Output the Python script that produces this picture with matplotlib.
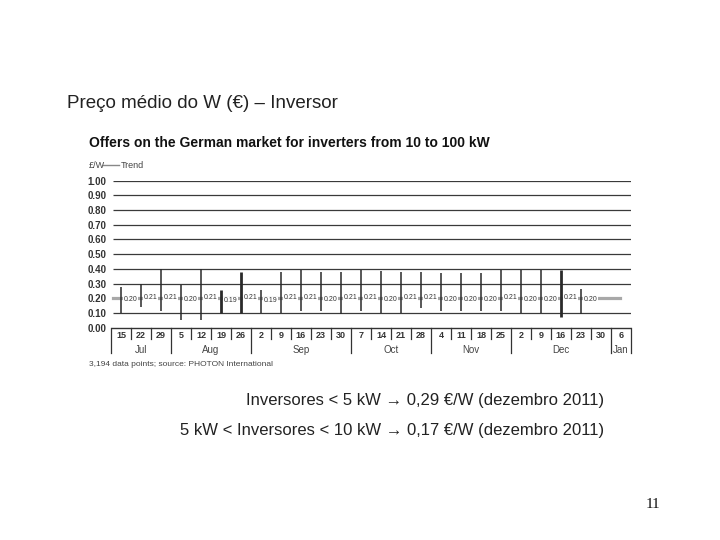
import matplotlib.pyplot as plt
from matplotlib.lines import Line2D

# weekly offers, German market, inverters 10-100 kW
days = ['15', '22', '29', '5', '12', '19', '26', '2', '9', '16', '23', '30', '7',
        '14', '21', '28', '4', '11', '18', '25', '2', '9', '16', '23', '30', '6']
months = ['Jul', 'Aug', 'Sep', 'Oct', 'Nov', 'Dec', 'Jan']
month_len = [3, 4, 5, 4, 4, 5, 1]
hi = [0.28, 0.30, 0.40, 0.29, 0.40, 0.255, 0.38, 0.255, 0.38, 0.39, 0.38, 0.38,
      0.39, 0.385, 0.38, 0.38, 0.37, 0.37, 0.37, 0.39, 0.39, 0.39, 0.39, 0.265]
lo = [0.10, 0.14, 0.115, 0.05, 0.05, 0.10, 0.10, 0.10, 0.10, 0.115, 0.115, 0.09,
      0.115, 0.10, 0.10, 0.135, 0.115, 0.115, 0.115, 0.115, 0.10, 0.10, 0.075, 0.09]
avg = [0.20, 0.21, 0.21, 0.20, 0.21, 0.19, 0.21, 0.19, 0.21, 0.21, 0.20, 0.21,
       0.21, 0.20, 0.21, 0.21, 0.20, 0.20, 0.20, 0.21, 0.20, 0.20, 0.21, 0.20]
trend = 0.20
yticks = [0.0, 0.1, 0.2, 0.3, 0.4, 0.5, 0.6, 0.7, 0.8, 0.9, 1.0]

sans = ['Liberation Sans', 'DejaVu Sans']

fig = plt.figure(figsize=(7.2, 5.4), dpi=100)
fig.patch.set_facecolor('white')

ax = fig.add_axes([111/720, 1 - 327.7/540, 520/720, 147.1/540])
ax.set_xlim(-0.5, 25.5)
ax.set_ylim(0, 1.0)
for s in ax.spines.values():
    s.set_visible(False)
ax.set_xticks([])
ax.set_yticks(yticks)
ax.set_yticklabels(['%.2f' % v for v in yticks], family=sans, fontsize=7,
                   fontweight='bold', color='#333333')
ax.tick_params(axis='y', length=0, pad=3.5)

# grid (0.20 is covered by the trend)
for v in yticks[1:]:
    if abs(v - trend) > 1e-6:
        ax.hlines(v, -0.4, 25.5, color='#3a3a3a', lw=0.9)
ax.hlines(0, -0.5, 25.5, color='#333333', lw=1.0, clip_on=False)

ax.plot([-0.4, 24.95], [trend, trend], color='#a8a8a8', lw=2.3, zorder=2)

thick = {5, 6, 22}
for i in range(len(hi)):
    ax.vlines(i, lo[i], hi[i], color='#2a2a2a', lw=2.0 if i in thick else 1.1, zorder=3)
    ax.text(i + 0.13, avg[i] - 0.008, '%.2f' % avg[i], fontsize=5, family=sans,
            color='#333333', ha='left', va='center', zorder=4,
            bbox=dict(facecolor='white', edgecolor='none', pad=0.4))

# x axis: day labels, week and month separators
for i, d in enumerate(days):
    ax.text(i, -0.055, d, ha='center', va='center', fontsize=6.5, family=sans,
            fontweight='bold', color='#333333', clip_on=False)
bounds = [-0.5]
for n in month_len:
    bounds.append(bounds[-1] + n)
for b in range(len(days) + 1):
    x = b - 0.5
    long_ = x in bounds
    ax.plot([x, x], [0, -0.17 if long_ else -0.08], color='#333333', lw=0.9,
            clip_on=False)
for m, a, b in zip(months, bounds[:-1], bounds[1:]):
    ax.text((a + b) / 2, -0.15, m, ha='center', va='center', fontsize=7,
            family=sans, color='#444444', clip_on=False)

# texts
fig.text(67/720, 1 - 103/540, 'Preço médio do W (€) – Inversor', fontsize=13.5,
         family=sans, color='#222222', va='center')
fig.text(89/720, 1 - 143/540, 'Offers on the German market for inverters from 10 to 100 kW',
         fontsize=10, family=sans, fontweight='bold', color='#111111', va='center')
fig.text(89/720, 1 - 165/540, '£/W', fontsize=6.5, family=sans, color='#444444', va='center')
fig.add_artist(Line2D([103/720, 119/720], [1 - 165/540, 1 - 165/540], color='#888888', lw=1))
fig.text(121/720, 1 - 165/540, 'Trend', fontsize=6.5, family=sans, color='#444444', va='center')
fig.text(89/720, 1 - 364/540, '3,194 data points; source: PHOTON International', fontsize=6,
         family=sans, color='#444444', va='center')

fig.text(604/720, 1 - 401/540, 'Inversores < 5 kW → 0,29 €/W (dezembro 2011)', fontsize=12,
         family=sans, color='#222222', ha='right', va='center')
fig.text(604/720, 1 - 430/540, '5 kW < Inversores < 10 kW → 0,17 €/W (dezembro 2011)',
         fontsize=12, family=sans, color='#222222', ha='right', va='center')
fig.text(660/720, 1 - 505/540, '11', fontsize=11, family=['Liberation Serif', 'DejaVu Serif'],
         color='#111111', ha='right', va='center')

plt.savefig('out.png', dpi=100)
